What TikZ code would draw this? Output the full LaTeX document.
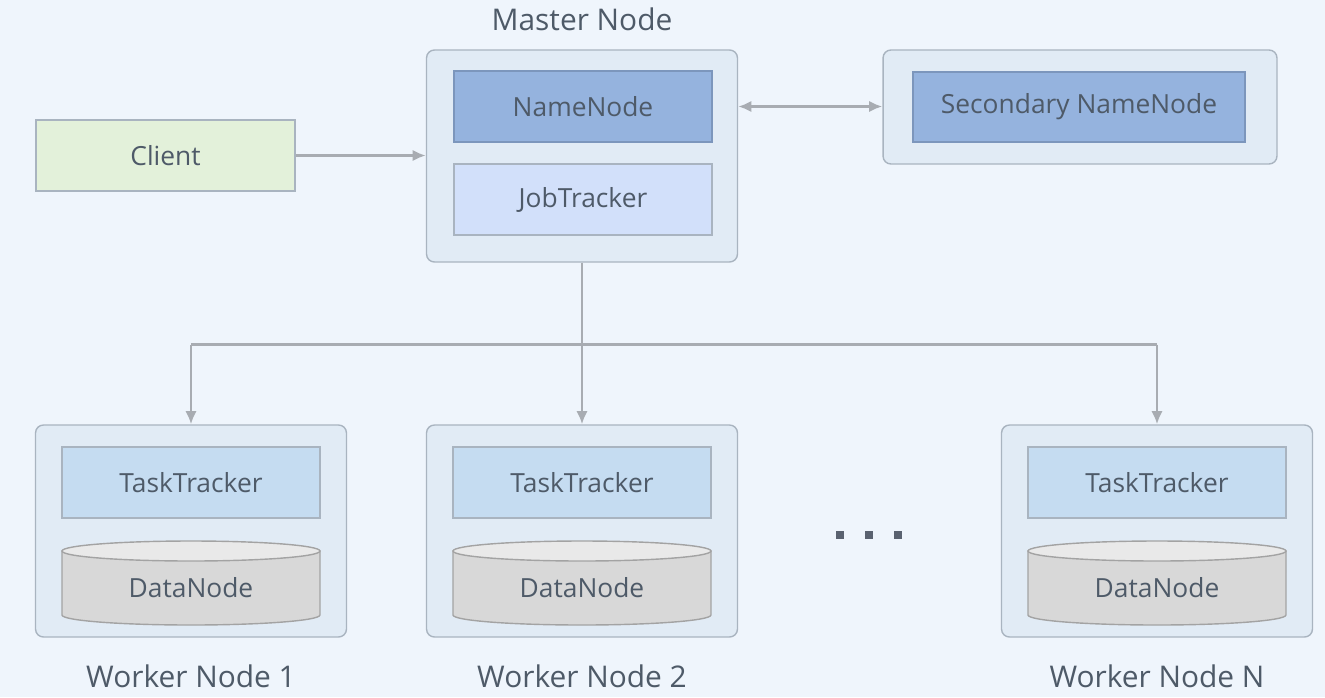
\documentclass[tikz,border=0pt]{standalone}
\usepackage{fontspec}
\setmainfont{Open Sans}
\usetikzlibrary{arrows.meta}
\usetikzlibrary{calc}

\definecolor{bg}{HTML}{EFF5FC}
\definecolor{boxfill}{HTML}{E1EBF5}
\definecolor{boxline}{HTML}{A9B4C0}
\definecolor{namefill}{HTML}{95B3DE}
\definecolor{nameline}{HTML}{7C96BC}
\definecolor{jobfill}{HTML}{D2E0FA}
\definecolor{taskfill}{HTML}{C5DCF1}
\definecolor{clientfill}{HTML}{E3F1DA}
\definecolor{cylfill}{HTML}{D8D8D8}
\definecolor{cyltop}{HTML}{E9E9E9}
\definecolor{cylline}{HTML}{A3A3A3}
\definecolor{txt}{HTML}{4E5A68}
\definecolor{arrowgray}{HTML}{A8ACB2}
\definecolor{dotgray}{HTML}{5A6270}

\begin{document}
\begin{tikzpicture}[x=0.02cm, y=-0.02cm,
  outer/.style={draw=boxline, fill=boxfill, rounded corners=4.5pt, line width=0.8pt},
  inner/.style={draw=boxline, line width=0.8pt, minimum width=5.16cm, minimum height=1.42cm, text=txt, font=\fontsize{15}{18}\selectfont},
  label/.style={text=txt, font=\fontsize{17}{20}\selectfont},
  line/.style={>={Latex[length=7.5pt,width=6.5pt]}, draw=arrowgray, line width=1.6pt}]

\useasboundingbox (0,0) rectangle (1325,697);
\fill[bg] (0,0) rectangle (1325,697);

% master
\node[outer, minimum width=6.22cm, minimum height=4.24cm] (master) at (582, 156) {};
\node[label] (mlab) at (582, 19) {Master Node};
\node[inner, fill=namefill, draw=nameline] (nn) at (583, 106.5) {NameNode};
\node[inner, fill=jobfill] (jt) at (583, 199.5) {JobTracker};

% secondary
\node[outer, minimum width=7.88cm, minimum height=2.28cm] (sec) at (1080, 107) {};
\node[inner, fill=namefill, draw=nameline, minimum width=6.64cm, minimum height=1.4cm] (snn) at (1079, 107) {Secondary NameNode};

% client
\node[inner, fill=clientfill, minimum width=5.18cm] (client) at (165.5, 155.5) {Client};

% workers
\foreach \i/\cx in {1/191, 2/582, N/1157} {
  \node[outer, minimum width=6.22cm, minimum height=4.24cm] (w\i) at (\cx, 531) {};
  \node[inner, fill=taskfill] (tt\i) at (\cx, 482.5) {TaskTracker};
  \filldraw[fill=cylfill, draw=cylline, line width=0.8pt] (\cx-129, 551) -- (\cx-129, 615)
    arc[start angle=180, end angle=360, x radius=2.58cm, y radius=0.2cm] -- (\cx+129, 551) -- cycle;
  \filldraw[fill=cyltop, draw=cylline, line width=0.8pt] (\cx, 551) ellipse[x radius=2.58cm, y radius=0.2cm];
  \node[text=txt, font=\fontsize{15}{18}\selectfont] (dn\i) at (\cx, 588) {DataNode};
  \node[label] (wlab\i) at (\cx, 676) {Worker Node \i};
}

\foreach \x in {840, 869, 898}
  \fill[dotgray] (\x-4, 531) rectangle (\x+4, 539);

% connectors
\draw[->, line] (client.east) -- (client.east -| master.west);
\draw[<->, line] (nn -| master.east) -- (nn -| sec.west);

\coordinate (bus) at ($(master.south)+(0,82)$);
\draw[line] (master.south) -- (bus);
\draw[line] (w1.north |- bus) -- (wN.north |- bus);
\draw[->, line] (bus) -- (w2.north);
\draw[->, line] (w1.north |- bus) -- (w1.north);
\draw[->, line] (wN.north |- bus) -- (wN.north);

\end{tikzpicture}
\end{document}
